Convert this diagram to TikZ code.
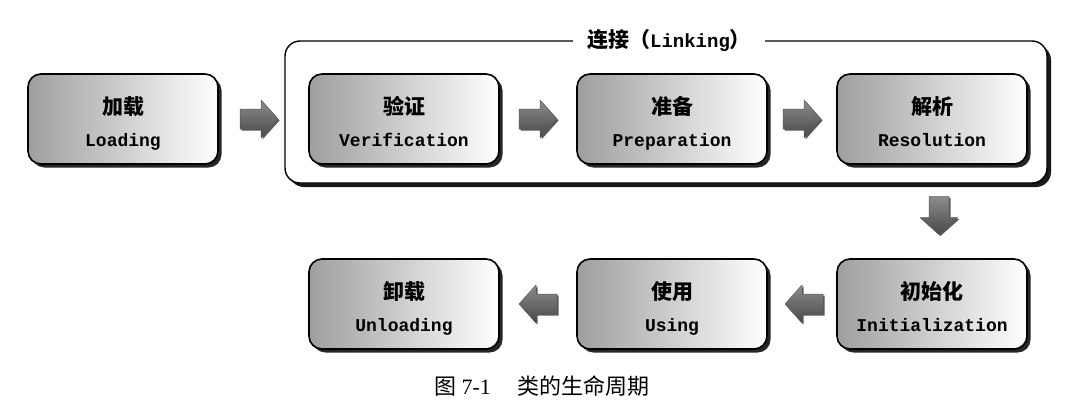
\documentclass[tikz,border=0pt]{standalone}
\usepackage{fontspec}
\newfontfamily\cjkfont{Noto Sans CJK SC}
\newfontfamily\monofont{Liberation Mono}
\newfontfamily\numfont{Liberation Serif}
\usetikzlibrary{shadows,calc}
\begin{document}
\begin{tikzpicture}[x=1pt,y=-1pt,
  stagebox/.style={draw=black, line width=1.6pt, rounded corners=13pt,
    minimum width=190pt, minimum height=90pt, inner sep=0pt,
    left color=black!38, right color=white,
    drop shadow={shadow xshift=3.5pt, shadow yshift=-3.5pt, fill=black!85, opacity=1}},
  cntext/.style={anchor=base, inner sep=0pt, font=\cjkfont\bfseries\fontsize{21}{24}\selectfont},
  entext/.style={anchor=base, inner sep=0pt, font=\monofont\bfseries\fontsize{18}{20}\selectfont},
  arrowfill/.style={draw=black!65, line width=0.5pt, line join=round,
    top color=black!45, bottom color=black!72,
    drop shadow={shadow xshift=1.5pt, shadow yshift=-1.5pt, fill=black!65, opacity=1}},
  blockarr/.pic={\path[arrowfill] (-19,-10) -- (2,-10) -- (2,-19) -- (19,0) -- (2,19) -- (2,10) -- (-19,10) -- cycle;},
  container/.style={draw=black, line width=1.4pt, rounded corners=15pt, fill=white,
    minimum width=762pt, minimum height=142pt, inner sep=0pt,
    drop shadow={shadow xshift=4pt, shadow yshift=-4pt, fill=black!90, opacity=1}},
]
\useasboundingbox[fill=white] (0,0) rectangle (1067,410);

% Linking container
\node[container] (linking) at (666,112) {};
\node[fill=white, inner xsep=14pt, inner ysep=2pt] (linklabel) at ([xshift=3pt]linking.north)
  {{\cjkfont\bfseries\fontsize{21}{24}\selectfont 连接（}{\monofont\bfseries\fontsize{19}{22}\selectfont Linking}{\cjkfont\bfseries\fontsize{21}{24}\selectfont ）}};

% stage boxes
\node[stagebox] (load) at (123,119) {};
\node[stagebox] (ver)  at (404,119) {};
\node[stagebox] (pre)  at (672,119) {};
\node[stagebox] (res)  at (932,119) {};
\node[stagebox] (ini)  at (932,304) {};
\node[stagebox] (use)  at (672,304) {};
\node[stagebox] (unl)  at (404,304) {};

% texts
\foreach \n/\cn/\en in {load/加载/Loading, ver/验证/Verification, pre/准备/Preparation,
  res/解析/Resolution, ini/初始化/Initialization, use/使用/Using, unl/卸载/Unloading}{
  \node[cntext] (\n-cn) at ([yshift=5pt]\n.center) {\cn};
  \node[entext] (\n-en) at ([yshift=-27pt]\n.center) {\en};
}

% arrows between stages
\coordinate (a1) at ($(load.east)!0.45!(ver.west)$);
\coordinate (a2) at ($(ver.east)!0.5!(pre.west)$);
\coordinate (a3) at ($(pre.east)!0.5!(res.west)$);
\coordinate (a4) at ($(res.south)!0.5!(ini.north)+(7,4)$);
\coordinate (a5) at ($(ini.west)!0.5!(use.east)+(2,0)$);
\coordinate (a6) at ($(use.west)!0.5!(unl.east)$);
\pic at (a1) {blockarr};
\pic at (a2) {blockarr};
\pic at (a3) {blockarr};
\pic[rotate=-90] at (a4) {blockarr};
\pic[rotate=180] at (a5) {blockarr};
\pic[rotate=180] at (a6) {blockarr};

% caption
\node[inner sep=0pt, font=\cjkfont\fontsize{22}{26}\selectfont] (caption) at (542,386)
  {图~{\numfont 7-1}\hspace{1.2em}类的生命周期};
\end{tikzpicture}
\end{document}
